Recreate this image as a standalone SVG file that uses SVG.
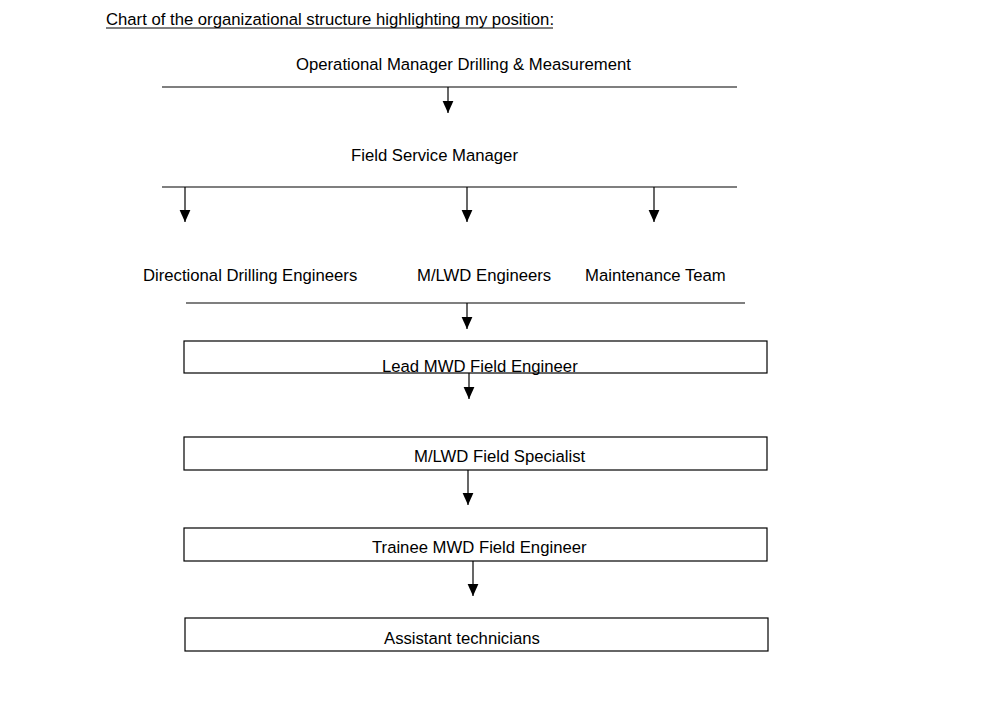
<svg xmlns="http://www.w3.org/2000/svg" width="995" height="728" viewBox="0 0 995 728">
<style>
text{font-family:"Liberation Sans",Arial,sans-serif;font-size:16.7px;fill:#000}
.ln{stroke:#000;stroke-width:1.2;fill:none}
.box{stroke:#000;stroke-width:1.2;fill:none}
</style>
<defs>
<marker id="ah" markerUnits="userSpaceOnUse" markerWidth="12" markerHeight="12" refX="10" refY="5" orient="auto" viewBox="0 0 10 10" overflow="visible">
<path d="M0,0.5 L10,5 L0,9.5 Z" fill="#000"/>
</marker>
</defs>
<rect width="995" height="728" fill="#fff"/>
<g id="title">
<text x="106" y="25">Chart of the organizational structure highlighting my position:</text>
<line x1="106" y1="28" x2="553" y2="28" stroke="#000" stroke-width="1"/>
</g>
<g id="node-opmanager"><text x="296" y="70">Operational Manager Drilling &amp; Measurement</text></g>
<g id="node-fsm"><text x="351" y="161">Field Service Manager</text></g>
<g id="node-dde"><text x="143" y="281">Directional Drilling Engineers</text></g>
<g id="node-mlwd"><text x="417" y="281">M/LWD Engineers</text></g>
<g id="node-maint"><text x="585" y="281">Maintenance Team</text></g>
<g id="node-lead"><rect class="box" x="184" y="341" width="583" height="32"/><text x="382" y="372">Lead MWD Field Engineer</text></g>
<g id="node-spec"><rect class="box" x="184" y="437" width="583" height="33"/><text x="414" y="462">M/LWD Field Specialist</text></g>
<g id="node-trainee"><rect class="box" x="184" y="528" width="583" height="33"/><text x="372" y="553">Trainee MWD Field Engineer</text></g>
<g id="node-assist"><rect class="box" x="185" y="618" width="583" height="33"/><text x="384" y="644">Assistant technicians</text></g>
<g id="connectors">
<line class="ln" x1="162" y1="87" x2="737" y2="87"/>
<line class="ln" x1="448" y1="87" x2="448" y2="113" marker-end="url(#ah)"/>
<line class="ln" x1="162" y1="187" x2="737" y2="187"/>
<line class="ln" x1="185" y1="187" x2="185" y2="222" marker-end="url(#ah)"/>
<line class="ln" x1="467" y1="187" x2="467" y2="222" marker-end="url(#ah)"/>
<line class="ln" x1="654" y1="187" x2="654" y2="222" marker-end="url(#ah)"/>
<line class="ln" x1="186" y1="303" x2="745" y2="303"/>
<line class="ln" x1="467" y1="303" x2="467" y2="329" marker-end="url(#ah)"/>
<line class="ln" x1="469" y1="373" x2="469" y2="399" marker-end="url(#ah)"/>
<line class="ln" x1="468" y1="470" x2="468" y2="505" marker-end="url(#ah)"/>
<line class="ln" x1="473" y1="561" x2="473" y2="596" marker-end="url(#ah)"/>
</g>
</svg>
